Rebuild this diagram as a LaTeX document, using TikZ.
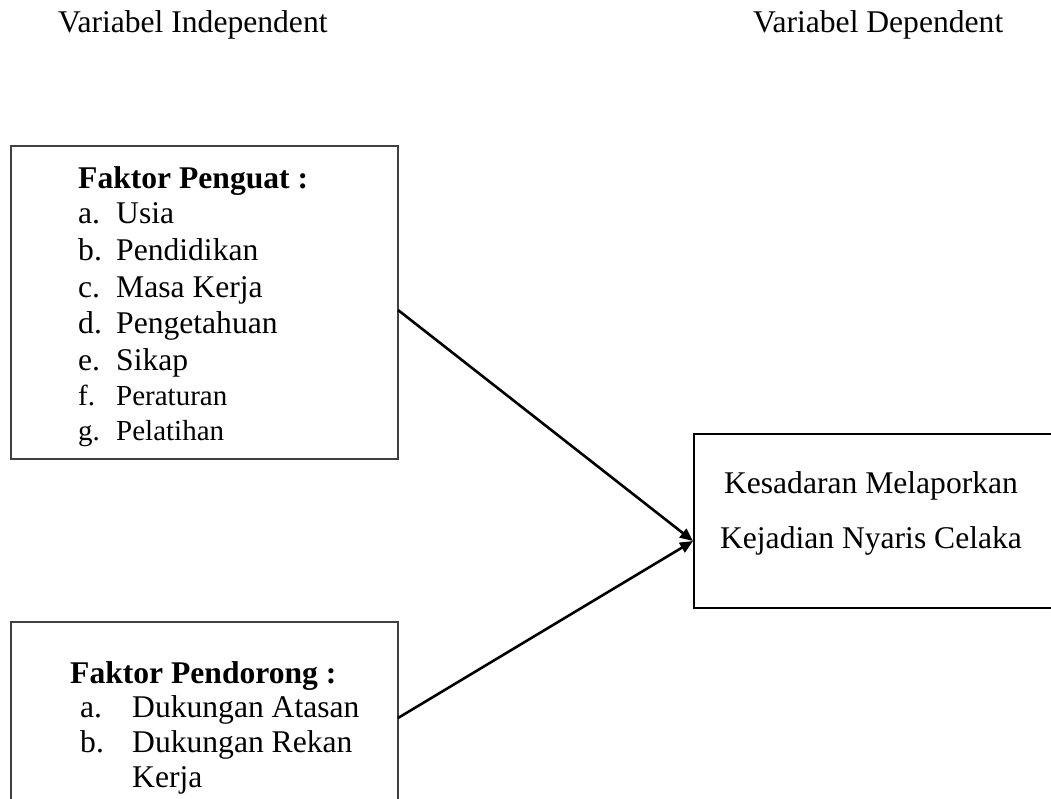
\documentclass[tikz,border=0pt]{standalone}
\usepackage{fontspec}
\setmainfont{Liberation Serif}
\usetikzlibrary{arrows.meta}
\newcommand\szbig{\fontsize{31.6}{38}\selectfont}
\newcommand\szsmall{\fontsize{29}{35}\selectfont}
\begin{document}
\begin{tikzpicture}[x=1pt,y=-1pt,
  txt/.style={inner sep=0pt,anchor=base west,font=\szbig},
  txts/.style={inner sep=0pt,anchor=base west,font=\szsmall},
  txtb/.style={inner sep=0pt,anchor=base west,font=\szbig\bfseries},
  txtc/.style={inner sep=0pt,anchor=base,font=\szbig},
  thinbox/.style={draw=black!75,line width=1.2pt,inner sep=0pt,outer sep=0pt},
  thickbox/.style={draw=black,line width=2.6pt,inner sep=0pt,outer sep=0pt},
  conn/.style={draw=black,line width=2.6pt,-{Triangle[length=13pt,width=11pt]}}]
\clip (0,0) rectangle (1051,798);
\fill[white] (0,0) rectangle (1051,798);
% headers
\node[txt] (vi) at (58,32) {Variabel Independent};
\node[txt] (vd) at (753,32) {Variabel Dependent};
% boxes
\node[thinbox,minimum width=387pt,minimum height=313pt] (b1) at (204.5,302.5) {};
\node[thinbox,minimum width=387pt,minimum height=208pt] (b2) at (204.5,726) {};
\node[thickbox,minimum width=376pt,minimum height=174pt] (b3) at (882,521) {};
% box 1 text
\node[txtb] (h1) at (78,188) {Faktor Penguat :};
\node[txt] (la) at (78,223) {a.};  \node[txt] (ia) at (116,223) {Usia};
\node[txt] (lb) at (78,260) {b.};  \node[txt] (ib) at (116,260) {Pendidikan};
\node[txt] (lc) at (78,297) {c.};  \node[txt] (ic) at (116,297) {Masa Kerja};
\node[txt] (ld) at (78,333) {d.};  \node[txt] (id) at (116,333) {Pengetahuan};
\node[txt] (le) at (78,370) {e.};  \node[txt] (ie) at (116,370) {Sikap};
\node[txts] (lf) at (78,405) {f.};  \node[txts] (if) at (116,405) {Peraturan};
\node[txts] (lg) at (78,440) {g.};  \node[txts] (ig) at (116,440) {Pelatihan};
% box 2 text
\node[txtb] (h2) at (70,683) {Faktor Pendorong :};
\node[txt] (ma) at (80,717) {a.};  \node[txt] (ja) at (132,717) {Dukungan Atasan};
\node[txt] (mb) at (80,752) {b.};  \node[txt] (jb) at (132,752) {Dukungan Rekan};
\node[txt] (jc) at (132,787) {Kerja};
% box 3 text
\node[txtc] (k1) at (871,493) {Kesadaran Melaporkan};
\node[txtc] (k2) at (871,548) {Kejadian Nyaris Celaka};
% connectors
\coordinate (tgt) at (693,541);
\draw[conn] ([yshift=-7.5pt]b1.east) -- (tgt);
\draw[conn] ([yshift=8pt]b2.east) -- (tgt);
\end{tikzpicture}
\end{document}
